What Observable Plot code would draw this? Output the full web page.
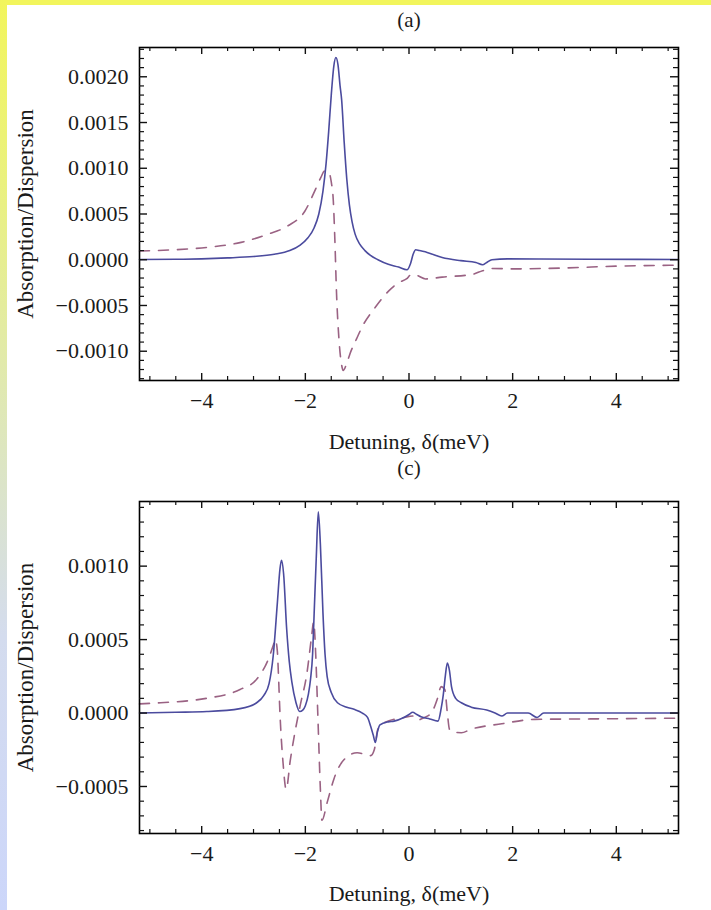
<!DOCTYPE html>
<html>
<head>
<meta charset="utf-8">
<script src="https://cdn.jsdelivr.net/npm/d3@7"></script>
<script src="https://cdn.jsdelivr.net/npm/@observablehq/plot@0.6"></script>
<style>
html, body { margin: 0; padding: 0; background: #ffffff; }
body { width: 711px; height: 910px; position: relative; overflow: hidden; }
#topbar { position: absolute; left: 0; top: 0; width: 711px; height: 5px; background: #f2f55c; }
#leftbar { position: absolute; left: 0; top: 0; width: 7px; height: 910px;
  background: linear-gradient(#f2f55c 0%, #eaf17e 20%, #dfe8b6 45%, #d4dcee 70%, #ccd6fa 100%); }
.panel { position: absolute; left: 7px; }
</style>
</head>
<body>
<div id="topbar"></div>
<div id="leftbar"></div>
<div id="pa" class="panel" style="top:5px"></div>
<div id="pc" class="panel" style="top:455px"></div>
<script>
// ---------- Panel (a) data ----------
const aAbsX = [-5.2, -4.5, -4.0, -3.5, -3.0, -2.6, -2.3, -2.1, -1.95, -1.83, -1.74, -1.66, -1.6, -1.55, -1.5, -1.45, -1.41, -1.37, -1.33, -1.30, -1.25, -1.20, -1.15, -1.10, -1.04, -0.95, -0.85, -0.75, -0.6, -0.4, -0.2, -0.04, 0.03, 0.08, 0.13, 0.2, 0.35, 0.64, 1.0, 1.29, 1.42, 1.5, 1.6, 1.9, 2.5, 3.5, 5.2];
const aAbsY = [0.000002, 0.000005, 0.00001, 0.00002, 0.000035, 0.00006, 0.0001, 0.00016, 0.00024, 0.00035, 0.0005, 0.00075, 0.00105, 0.0014, 0.0018, 0.00212, 0.00221, 0.00213, 0.0019, 0.00175, 0.00128, 0.00088, 0.0006, 0.00042, 0.00028, 0.00017, 0.0001, 0.00005, 0.0, -0.00005, -0.00008, -0.00011, -0.00004, 0.00006, 0.00011, 0.0001, 0.00008, 0.000025, -0.00001, -0.00003, -0.000055, -0.00003, 0.0, 0.00001, 0.000008, 0.000005, 0.000003];

const aDispX = [-5.2, -4.5, -3.9, -3.24, -2.72, -2.34, -2.01, -1.82, -1.7, -1.63, -1.55, -1.5, -1.46, -1.43, -1.40, -1.35, -1.30, -1.27, -1.2, -1.14, -1.0, -0.91, -0.65, -0.39, -0.2, -0.05, 0.05, 0.15, 0.32, 0.64, 1.22, 1.42, 1.6, 2.0, 3.0, 4.0, 5.2];
const aDispY = [0.000095, 0.00011, 0.000135, 0.00019, 0.00028, 0.00037, 0.00053, 0.00075, 0.0009, 0.00097, 0.00096, 0.00085, 0.00064, 0.00021, -0.00034, -0.00088, -0.00115, -0.00121, -0.00113, -0.00103, -0.00085, -0.00074, -0.00052, -0.00034, -0.00025, -0.00021, -0.00016, -0.00017, -0.00021, -0.00019, -0.00016, -0.00012, -0.000095, -0.0001, -0.00009, -0.00007, -0.00006];

// ---------- Panel (c) data ----------
const cAbsX = [-5.2, -4.5, -3.9, -3.26, -2.94, -2.8, -2.7, -2.62, -2.54, -2.49, -2.46, -2.42, -2.36, -2.31, -2.26, -2.18, -2.11, -2.05, -2.0, -1.94, -1.90, -1.86, -1.83, -1.79, -1.75, -1.71, -1.66, -1.62, -1.58, -1.5, -1.38, -1.2, -1.06, -0.9, -0.8, -0.74, -0.69, -0.65, -0.61, -0.56, -0.4, -0.29, -0.1, 0.0, 0.07, 0.15, 0.23, 0.4, 0.56, 0.62, 0.66, 0.70, 0.74, 0.78, 0.82, 0.9, 1.01, 1.2, 1.5, 1.66, 1.79, 1.9, 2.3, 2.47, 2.6, 5.2];
const cAbsY = [0.0, 0.000005, 0.00001, 0.00003, 0.00007, 0.00012, 0.0002, 0.00039, 0.00075, 0.00098, 0.00104, 0.00095, 0.00057, 0.00035, 0.00021, 0.00007, 0.00001, 0.00002, 0.00005, 0.00013, 0.00023, 0.0004, 0.00068, 0.00105, 0.00137, 0.00115, 0.00068, 0.0004, 0.00025, 0.00014, 0.00007, 0.00004, 0.000025, 0.0, -0.00003, -0.00009, -0.00015, -0.0002, -0.00013, -0.00008, -0.00006, -0.000055, -0.00003, -0.00001, 0.000005, -0.00001, -0.000025, -0.00004, -0.000055, 0.00003, 0.00012, 0.00025, 0.00034, 0.00029, 0.00018, 0.0001, 0.00007, 0.00004, 0.00002, 0.0, -0.00002, 0.0, 0.0, -0.00003, 0.0, 0.0];

const cDispX = [-5.2, -5.0, -3.91, -3.26, -2.94, -2.71, -2.62, -2.58, -2.54, -2.52, -2.49, -2.43, -2.37, -2.29, -2.19, -2.10, -1.97, -1.88, -1.84, -1.80, -1.77, -1.75, -1.71, -1.68, -1.58, -1.45, -1.26, -1.0, -0.74, -0.67, -0.6, -0.48, -0.09, 0.07, 0.16, 0.3, 0.43, 0.55, 0.62, 0.69, 0.74, 0.78, 0.85, 1.01, 1.2, 1.79, 2.43, 3.5, 5.2];
const cDispY = [0.000062, 0.000066, 0.0001, 0.00016, 0.00023, 0.00037, 0.00046, 0.0005, 0.00042, 0.00027, 0.0, -0.00034, -0.00052, -0.00032, -0.00011, 0.00005, 0.00027, 0.00052, 0.00062, 0.0004, 0.0001, -0.00011, -0.00052, -0.00073, -0.00061, -0.00045, -0.00032, -0.00027, -0.00029, -0.00025, -0.00011, -0.000066, -0.00003, -0.00002, -0.000048, -0.00003, 0.0, 0.0001, 0.00018, 0.00016, 0.0, -0.00011, -0.00013, -0.000134, -0.00011, -0.000073, -0.000043, -0.00004, -0.000035];

// ---------- Ticks ----------
const xMajorTicks = [-4, -2, 0, 2, 4];
const xMinorTicks = [-5, -4.5, -3.5, -3, -2.5, -1.5, -1, -0.5, 0.5, 1, 1.5, 2.5, 3, 3.5, 4.5, 5];
const aYMajorTicks = [-0.0010, -0.0005, 0.0000, 0.0005, 0.0010, 0.0015, 0.0020];
const cYMajorTicks = [-0.0005, 0.0000, 0.0005, 0.0010];
const xLabel = "Detuning, δ(meV)";
const yLabel = "Absorption/Dispersion";

const fmtX = d => (d < 0 ? "\u2212" : "") + Math.abs(d);
const fmtY = d => (d < 0 ? "\u2212" : "") + Math.abs(d).toFixed(4);

function yMinorFrom(domain) {
  const out = [];
  for (let k = Math.ceil(domain[0] / 0.0001); k <= Math.floor(domain[1] / 0.0001); k++) {
    if (k % 5 !== 0) out.push(k * 0.0001);
  }
  return out;
}

function panel({absX, absY, dispX, dispY, yDomain, yMajor, title, height, mt, mb, titleDy, xLabDy}) {
  const W = 704, ml = 132, mr = 33;
  const fw = W - ml - mr, fh = height - mt - mb;
  const abs = absX.map((x, i) => ({x, y: absY[i]}));
  const disp = dispX.map((x, i) => ({x, y: dispY[i]}));
  const yMinor = yMinorFrom(yDomain);
  const tickColor = "#111";
  return Plot.plot({
    width: W, height,
    marginLeft: ml, marginRight: mr, marginTop: mt, marginBottom: mb,
    x: {domain: [-5.2, 5.2]},
    y: {domain: yDomain},
    style: {fontFamily: "'Liberation Serif', 'DejaVu Serif', serif", fontSize: "22px", background: "transparent", color: "#1a1a1a", overflow: "visible"},
    marks: [
      Plot.line(disp, {x: "x", y: "y", stroke: "#9a6283", strokeWidth: 1.6, strokeDasharray: "10,9", curve: "monotone-x"}),
      Plot.line(abs, {x: "x", y: "y", stroke: "#4b4b9e", strokeWidth: 1.6, curve: "monotone-x"}),
      Plot.frame({stroke: "#000", strokeWidth: 1.6}),
      // inward ticks, bottom & top
      Plot.tickX(xMajorTicks, {x: d => d, insetTop: fh - 7, stroke: tickColor, strokeWidth: 1.4}),
      Plot.tickX(xMajorTicks, {x: d => d, insetBottom: fh - 7, stroke: tickColor, strokeWidth: 1.4}),
      Plot.tickX(xMinorTicks, {x: d => d, insetTop: fh - 4, stroke: tickColor, strokeWidth: 1.2}),
      Plot.tickX(xMinorTicks, {x: d => d, insetBottom: fh - 4, stroke: tickColor, strokeWidth: 1.2}),
      // inward ticks, left & right
      Plot.tickY(yMajor, {y: d => d, insetRight: fw - 8, stroke: tickColor, strokeWidth: 1.4}),
      Plot.tickY(yMajor, {y: d => d, insetLeft: fw - 8, stroke: tickColor, strokeWidth: 1.4}),
      Plot.tickY(yMinor, {y: d => d, insetRight: fw - 5, stroke: tickColor, strokeWidth: 1.2}),
      Plot.tickY(yMinor, {y: d => d, insetLeft: fw - 5, stroke: tickColor, strokeWidth: 1.2}),
      Plot.axisX(xMajorTicks, {tickSize: 0, tickPadding: 12, tickFormat: fmtX, label: null}),
      Plot.axisY(yMajor, {tickSize: 0, tickPadding: 11, tickFormat: fmtY, label: null}),
      Plot.text([title], {text: d => d, frameAnchor: "top", lineAnchor: "middle", dy: titleDy, fontSize: 21}),
      Plot.text([xLabel], {text: d => d, frameAnchor: "bottom", lineAnchor: "middle", dy: xLabDy, fontSize: 22}),
      Plot.text([yLabel], {text: d => d, frameAnchor: "left", textAnchor: "middle", lineAnchor: "middle", dx: -114, rotate: -90, fontSize: 23})
    ]
  });
}

document.getElementById("pa").append(panel({
  absX: aAbsX, absY: aAbsY, dispX: aDispX, dispY: aDispY,
  yDomain: [-0.00132, 0.00232], yMajor: aYMajorTicks, title: "(a)",
  height: 450, mt: 42, mb: 75, titleDy: -27, xLabDy: 61
}));
document.getElementById("pc").append(panel({
  absX: cAbsX, absY: cAbsY, dispX: cDispX, dispY: cDispY,
  yDomain: [-0.00082, 0.00144], yMajor: cYMajorTicks, title: "(c)",
  height: 455, mt: 46, mb: 77, titleDy: -33, xLabDy: 60
}));
</script>
</body>
</html>
